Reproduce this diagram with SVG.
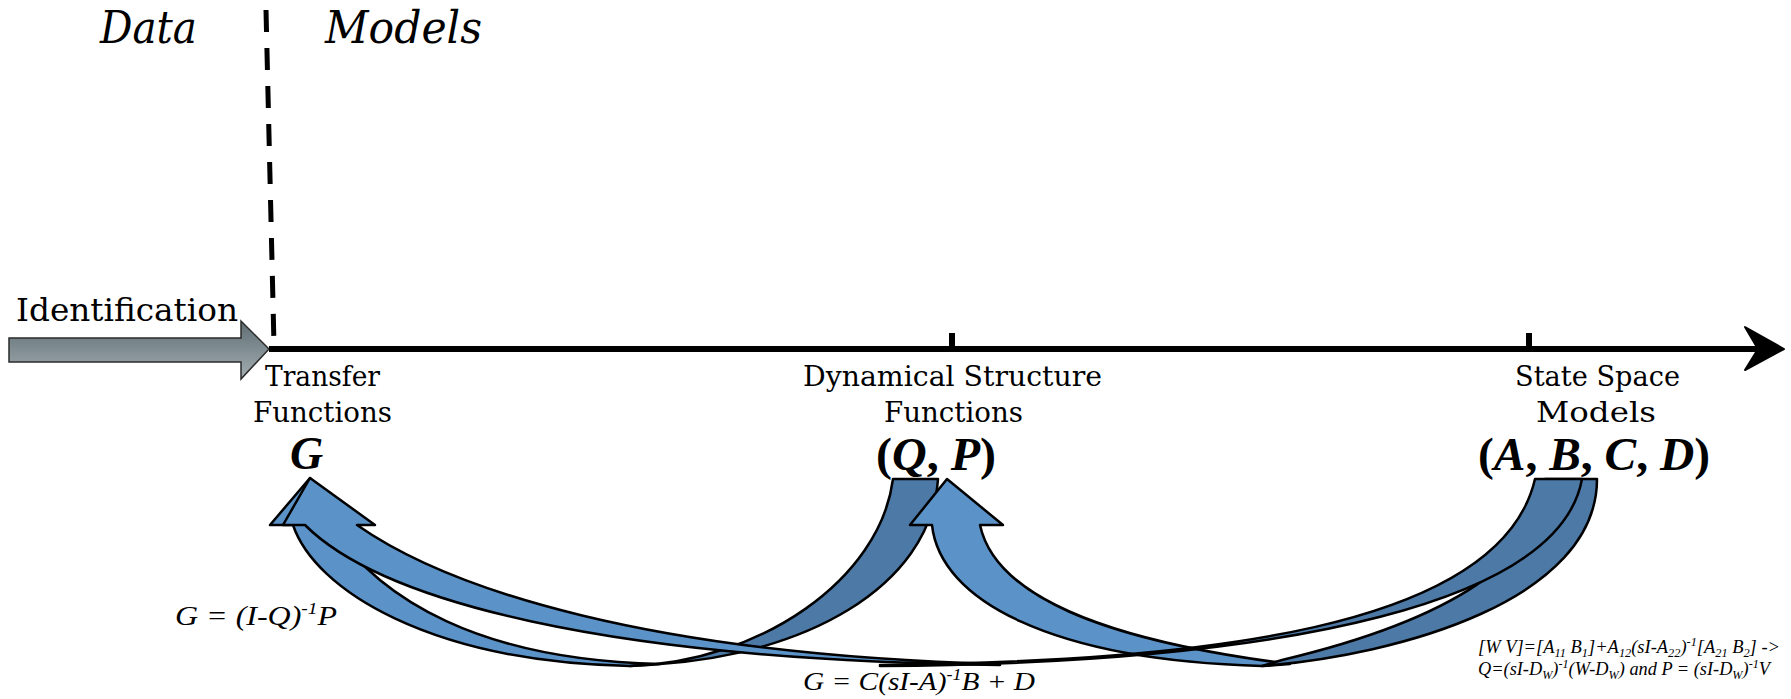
<svg xmlns="http://www.w3.org/2000/svg" width="1791" height="699" viewBox="0 0 1791 699">
<style>
.lbl{font-family:"DejaVu Serif","Liberation Serif",serif;fill:#000}
.ttl{font-family:"DejaVu Serif","Liberation Serif",serif;font-style:italic;fill:#000}
.math{font-family:"Liberation Serif","Times New Roman",serif;font-style:italic;font-weight:bold;fill:#000}
.up{font-style:normal}
.fml{font-family:"Liberation Serif","Times New Roman",serif;font-style:italic;fill:#000}
.light{fill:#5B93C9;stroke:#000;stroke-width:2.5;stroke-linejoin:round}
.dark{fill:#4D79A7;stroke:#000;stroke-width:2.5;stroke-linejoin:round}
</style>
<defs>
<linearGradient id="gIdent" x1="0" y1="0" x2="0" y2="1">
<stop offset="0" stop-color="#5F6D73"/>
<stop offset="1" stop-color="#A3AEB1"/>
</linearGradient>
</defs>
<rect width="1791" height="699" fill="#fff"/>

<g id="headers">
<text class="ttl" x="100" y="43" font-size="45" textLength="97" lengthAdjust="spacingAndGlyphs">Data</text>
<text class="ttl" x="325" y="43" font-size="45" textLength="157" lengthAdjust="spacingAndGlyphs">Models</text>
<line x1="266" y1="10" x2="274" y2="345" stroke="#000" stroke-width="5" stroke-dasharray="22 16"/>
</g>

<g id="identification">
<path d="M9,338 L241,338 L241,321 L269,349 L241,379 L241,362 L9,362 Z" fill="url(#gIdent)" stroke="#2b2b2b" stroke-width="1.5"/>
<text class="lbl" x="16" y="321" font-size="31" textLength="222" lengthAdjust="spacingAndGlyphs">Identification</text>
</g>

<g id="axis">
<line x1="269" y1="349" x2="1762" y2="349" stroke="#000" stroke-width="6"/>
<path d="M1784,349 L1745,327 L1758,349 L1745,370 Z" fill="#000" stroke="#000" stroke-width="2" stroke-linejoin="round"/>
<line x1="952" y1="333" x2="952" y2="349" stroke="#000" stroke-width="6"/>
<line x1="1529" y1="333" x2="1529" y2="349" stroke="#000" stroke-width="6"/>
</g>

<g id="node-transfer-functions">
<text class="lbl" x="265" y="386" font-size="27" textLength="115" lengthAdjust="spacingAndGlyphs">Transfer</text>
<text class="lbl" x="253" y="422" font-size="27" textLength="139" lengthAdjust="spacingAndGlyphs">Functions</text>
<text class="math" x="290" y="469" font-size="46">G</text>
</g>

<g id="node-dynamical-structure-functions">
<text class="lbl" x="803" y="386" font-size="27" textLength="299" lengthAdjust="spacingAndGlyphs">Dynamical Structure</text>
<text class="lbl" x="884" y="422" font-size="27" textLength="139" lengthAdjust="spacingAndGlyphs">Functions</text>
<text class="math" x="876" y="470" font-size="46" textLength="120" lengthAdjust="spacingAndGlyphs"><tspan class="up">(</tspan>Q<tspan class="up">, </tspan>P<tspan class="up">)</tspan></text>
</g>

<g id="node-state-space-models">
<text class="lbl" x="1515" y="386" font-size="27" textLength="165" lengthAdjust="spacingAndGlyphs">State Space</text>
<text class="lbl" x="1536" y="422" font-size="27" textLength="120" lengthAdjust="spacingAndGlyphs">Models</text>
<text class="math" x="1478" y="470" font-size="46" textLength="232" lengthAdjust="spacingAndGlyphs"><tspan class="up">(</tspan>A<tspan class="up">, </tspan>B<tspan class="up">, </tspan>C<tspan class="up">, </tspan>D<tspan class="up">)</tspan></text>
</g>

<g id="connectors">
<g id="arrow-qp-to-g">
<path class="light" d="M293,525 C315,590 430,662 630,666 L660,664 C480,660 380,600 330,525 L350,525 L310,478 L270,525 Z"/>
<path class="dark" d="M630,666 C760,662 880,580 893,479 L938,479 C930,590 800,655 660,664 Z"/>
</g>
<g id="arrow-ss-to-qp">
<path class="light" d="M932,525 C940,600 1050,660 1262,666 L1290,664 C1100,640 995,595 980,525 L1003,525 L947,479 L910,525 Z"/>
<path class="dark" d="M1262,666 C1400,655 1597,600 1597,479 L1545,479 C1545,560 1450,620 1282,660 Z"/>
</g>
<g id="arrow-ss-to-g">
<path class="light" d="M305,525 C380,600 600,660 1000,665 L1000,664 C650,655 450,590 357,525 L375,525 L310,478 L283,525 Z"/>
<path class="dark" d="M880,665 C1200,661 1500,630 1535,479 L1582,479 C1560,600 1300,663 880,666 Z"/>
</g>
<text class="fml" x="175" y="625" font-size="28" textLength="162" lengthAdjust="spacingAndGlyphs">G = (I-Q)<tspan dy="-11" font-size="17">-1</tspan><tspan dy="11" font-size="28">P</tspan></text>
<text class="fml" x="803" y="690" font-size="26" textLength="232" lengthAdjust="spacingAndGlyphs">G = C(sI-A)<tspan dy="-10" font-size="16">-1</tspan><tspan dy="10" font-size="26">B + D</tspan></text>
<text class="fml" x="1478" y="653" font-size="18" textLength="302" lengthAdjust="spacingAndGlyphs">[W V]=[A<tspan dy="4" font-size="12">11</tspan><tspan dy="-4" font-size="18"> B</tspan><tspan dy="4" font-size="12">1</tspan><tspan dy="-4" font-size="18">]+A</tspan><tspan dy="4" font-size="12">12</tspan><tspan dy="-4" font-size="18">(sI-A</tspan><tspan dy="4" font-size="12">22</tspan><tspan dy="-4" font-size="18">)</tspan><tspan dy="-7" font-size="12">-1</tspan><tspan dy="7" font-size="18">[A</tspan><tspan dy="4" font-size="12">21</tspan><tspan dy="-4" font-size="18"> B</tspan><tspan dy="4" font-size="12">2</tspan><tspan dy="-4" font-size="18">] -&gt;</tspan></text>
<text class="fml" x="1478" y="675" font-size="18" textLength="292" lengthAdjust="spacingAndGlyphs">Q=(sI-D<tspan dy="4" font-size="12">W</tspan><tspan dy="-4" font-size="18">)</tspan><tspan dy="-7" font-size="12">-1</tspan><tspan dy="7" font-size="18">(W-D</tspan><tspan dy="4" font-size="12">W</tspan><tspan dy="-4" font-size="18">) and P = (sI-D</tspan><tspan dy="4" font-size="12">W</tspan><tspan dy="-4" font-size="18">)</tspan><tspan dy="-7" font-size="12">-1</tspan><tspan dy="7" font-size="18">V</tspan></text>
</g>
</svg>
